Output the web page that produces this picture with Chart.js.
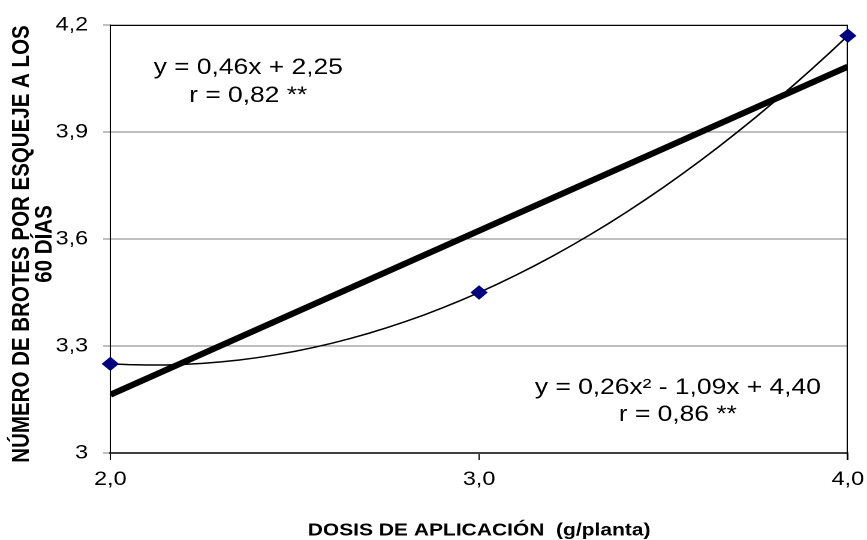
<!DOCTYPE html>
<html lang="es">
<head>
<meta charset="UTF-8">
<title>Brotes por esqueje</title>
<script src="https://cdn.jsdelivr.net/npm/chart.js@4.4.1/dist/chart.umd.min.js"></script>
<style>
  html, body { margin: 0; padding: 0; background: #fff; overflow: hidden; }
  /* the chart is laid out narrow and widened, like the original wide-format figure */
  #wrap { width: 723px; height: 540px; transform: scaleX(1.1992); transform-origin: 0 0; }
</style>
</head>
<body>
<div id="wrap"><canvas id="myChart" width="723" height="540"></canvas></div>
<script>

// means per dose
var dosis = [2.0, 3.0, 4.0];
var brotes = [3.25, 3.45, 4.17];

var xTicks = [2, 3, 4];
var yTicks = [3, 3.3, 3.6, 3.9, 4.2];

var ecuacionLineal = ['y = 0,46x + 2,25', 'r = 0,82 **'];
var ecuacionCuad = ['y = 0,26x² - 1,09x + 4,40', 'r = 0,86 **'];

var tituloY = ['NÚMERO DE BROTES POR ESQUEJE A LOS', '60 DÍAS'];
var tituloX = 'DOSIS DE APLICACIÓN  (g/planta)';

var FONT = "'Liberation Sans', Arial, sans-serif";

// least squares fit, returns [c0, c1, c2...]
function polyfit(xs, ys, deg) {
    var n = deg + 1, A = [], b = [];
    for (var i = 0; i < n; i++) {
        A.push([]);
        b.push(0);
        for (var j = 0; j < n; j++) {
            var s = 0;
            xs.forEach(function (x) { s += Math.pow(x, i + j); });
            A[i].push(s);
        }
        xs.forEach(function (x, k) { b[i] += ys[k] * Math.pow(x, i); });
    }
    for (var c = 0; c < n; c++) {
        for (var r = c + 1; r < n; r++) {
            var f = A[r][c] / A[c][c];
            for (var k = c; k < n; k++) A[r][k] -= f * A[c][k];
            b[r] -= f * b[c];
        }
    }
    var coef = new Array(n).fill(0);
    for (var r = n - 1; r >= 0; r--) {
        var s = b[r];
        for (var k = r + 1; k < n; k++) s -= A[r][k] * coef[k];
        coef[r] = s / A[r][r];
    }
    return coef;
}

function evalPoly(coef, x) {
    return coef.reduce(function (acc, c, i) { return acc + c * Math.pow(x, i); }, 0);
}

// trendlines fitted to the means
var coefLin = polyfit(dosis, brotes, 1);
var coefCuad = polyfit(dosis, brotes, 2);

var lineaLin = [dosis[0], dosis[dosis.length - 1]].map(function (x) {
    return { x: x, y: evalPoly(coefLin, x) };
});
var lineaCuad = [];
for (var x = dosis[0]; x <= dosis[dosis.length - 1] + 1e-9; x += 0.05) {
    lineaCuad.push({ x: x, y: evalPoly(coefCuad, x) });
}

var coma = function (v, d) { return v.toFixed(d).replace('.', ','); };

// equation boxes, anchored in data units
var notas = [
    { lineas: ecuacionLineal, x: 2.374, y: 4.079, paso: 28 },
    { lineas: ecuacionCuad, x: 3.539, y: 3.182, paso: 27 }
];

var extras = {
    id: 'extras',
    beforeDatasetsDraw: function (chart) {
        // plot frame, top and right
        var ctx = chart.ctx, a = chart.chartArea;
        ctx.save();
        ctx.strokeStyle = '#000';
        ctx.lineWidth = 1;
        ctx.beginPath();
        ctx.moveTo(a.left, a.top + 0.5);
        ctx.lineTo(a.right, a.top + 0.5);
        ctx.moveTo(a.right - 0.5, a.top);
        ctx.lineTo(a.right - 0.5, a.bottom + 7);
        ctx.stroke();
        ctx.restore();
    },
    afterDraw: function (chart) {
        var ctx = chart.ctx;
        var xs = chart.scales.x, ys = chart.scales.y;
        ctx.save();
        ctx.fillStyle = '#000';
        ctx.textAlign = 'center';
        ctx.textBaseline = 'middle';
        ctx.font = '22px ' + FONT;
        notas.forEach(function (n) {
            var px = xs.getPixelForValue(n.x), py = ys.getPixelForValue(n.y);
            n.lineas.forEach(function (t, i) { ctx.fillText(t, px, py + i * n.paso); });
        });

        // vertical axis title, two lines
        ctx.font = 'bold 20.5px ' + FONT;
        ctx.translate(0, 244);
        ctx.rotate(-Math.PI / 2);
        ctx.fillText(tituloY[0], 0, 18.5);
        ctx.fillText(tituloY[1], 0, 37.5);
        ctx.restore();
    }
};

var ctx = document.getElementById('myChart').getContext('2d');
var chart = new Chart(ctx, {
    type: 'scatter',
    data: {
        datasets: [{
            label: 'Medias',
            data: dosis.map(function (x, i) { return { x: x, y: brotes[i] }; }),
            pointStyle: 'rectRot',
            pointRadius: 6.5,
            backgroundColor: '#000080',
            borderColor: '#000080',
            borderWidth: 1,
            clip: false,
            order: 0
        }, {
            label: 'Lineal',
            data: lineaLin,
            showLine: true,
            borderColor: '#000',
            borderWidth: 6,
            pointRadius: 0,
            order: 2
        }, {
            label: 'Cuadrática',
            data: lineaCuad,
            showLine: true,
            borderColor: '#000',
            borderWidth: 1.5,
            pointRadius: 0,
            order: 1
        }]
    },
    options: {
        responsive: false,
        devicePixelRatio: 2,
        animation: false,
        layout: { padding: { top: 25, right: 16, left: 0, bottom: 0 } },
        plugins: { legend: { display: false }, tooltip: { enabled: false } },
        scales: {
            x: {
                type: 'linear',
                min: 2,
                max: 4,
                afterBuildTicks: function (s) { s.ticks = xTicks.map(function (v) { return { value: v }; }); },
                afterFit: function (s) {
                    s.height = 87;
                    s.paddingLeft = 0;
                    s.paddingRight = 0;
                },
                ticks: {
                    color: '#000',
                    padding: 8,
                    maxRotation: 0,
                    font: { family: FONT, size: 19.5 },
                    callback: function (v) { return coma(v, 1); }
                },
                grid: { drawOnChartArea: false, tickLength: 7, tickColor: '#000' },
                border: { color: '#404040', width: 2 },
                title: {
                    display: true,
                    text: tituloX,
                    color: '#000',
                    padding: { top: 0, bottom: 0 },
                    font: { family: FONT, size: 17.5, weight: 'bold', lineHeight: 1.05 }
                }
            },
            y: {
                min: 3,
                max: 4.2,
                afterBuildTicks: function (s) { s.ticks = yTicks.map(function (v) { return { value: v }; }); },
                afterFit: function (s) {
                    s.width = 92;
                    s.paddingTop = 0;
                    s.paddingBottom = 0;
                },
                ticks: {
                    color: '#000',
                    padding: 12.5,
                    font: { family: FONT, size: 19.5 },
                    callback: function (v) { return v === 3 ? '3' : coma(v, 1); }
                },
                grid: { color: '#808080', lineWidth: 1, tickLength: 6 },
                border: { color: '#000', width: 1 }
            }
        }
    },
    plugins: [extras]
});

</script>
</body>
</html>
